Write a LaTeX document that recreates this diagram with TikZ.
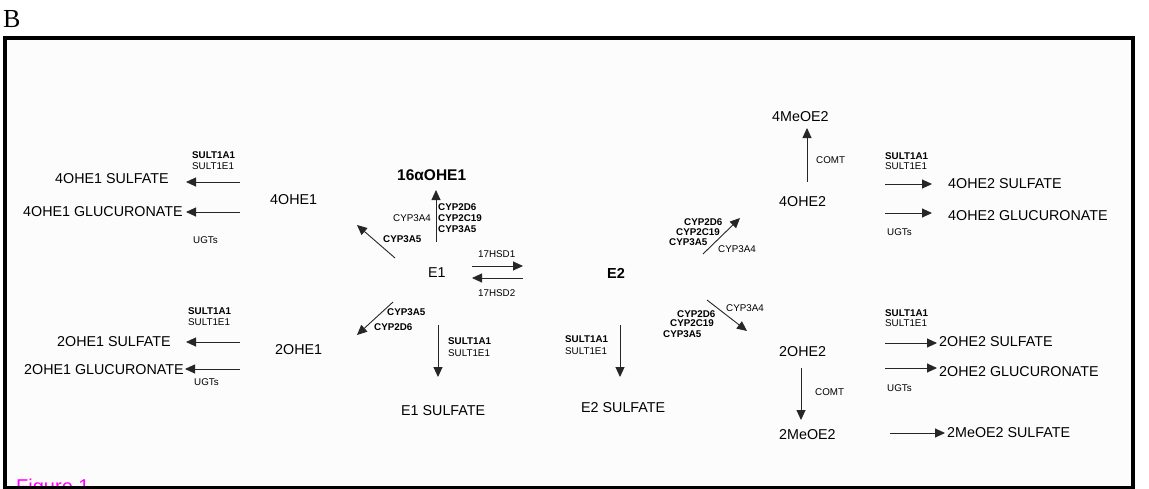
\documentclass[tikz,border=0pt]{standalone}
\usepackage{fontspec}
\setmainfont{Liberation Sans}
\newfontfamily\serifB{Liberation Serif}
\usetikzlibrary{arrows.meta}
\definecolor{panel}{HTML}{FCFCFC}
\definecolor{figmag}{HTML}{FF00FF}
\begin{document}
\begin{tikzpicture}[x=1pt,y=-1pt,
  lab/.style={inner sep=0pt, anchor=west, font=\fontsize{14.3}{16}\selectfont},
  labb/.style={inner sep=0pt, anchor=west, font=\fontsize{14.5}{16}\selectfont\bfseries},
  en/.style={inner sep=0pt, anchor=west, font=\fontsize{9.8}{11}\selectfont},
  enb/.style={inner sep=0pt, anchor=west, font=\fontsize{9.8}{11}\selectfont\bfseries},
  arr/.style={-{Triangle[length=10pt,width=9pt]}, line width=0.9pt, draw=black!85}]
\useasboundingbox (0,0) rectangle (1149,488);
\clip (0,0) rectangle (1149,488);
\fill[panel] (5,38) rectangle (1133,488);
\node[inner sep=0pt, anchor=west, font=\serifB\fontsize{26}{28}\selectfont] (B) at (3,19) {B};
\node[inner sep=0pt, anchor=north west, text=figmag, font=\fontsize{20}{22}\selectfont] (fig) at (16,479) {Figure 1};
% ---------- left top
\node[enb] (lts1) at (192,155) {SULT1A1};
\node[en] (lts2) at (192,166) {SULT1E1};
\node[lab] (p4s) at (55,179) {4OHE1 SULFATE};
\node[lab] (p4g) at (23,212) {4OHE1 GLUCURONATE};
\node[en] (ltu) at (193,240) {UGTs};
\node[lab] (n4OHE1) at (270,200) {4OHE1};
\coordinate (a1s) at (240,182); \coordinate (a1e) at (186,182);
\coordinate (a2s) at (240,212); \coordinate (a2e) at (186,212);
\draw[arr] (a1s) -- (a1e);
\draw[arr] (a2s) -- (a2e);
% ---------- left bottom
\node[enb] (lbs1) at (188,311) {SULT1A1};
\node[en] (lbs2) at (188,322) {SULT1E1};
\node[lab] (p2s) at (57,342) {2OHE1 SULFATE};
\node[lab] (p2g) at (24,370) {2OHE1 GLUCURONATE};
\node[en] (lbu) at (194,382) {UGTs};
\node[lab] (n2OHE1) at (275,350) {2OHE1};
\coordinate (a3s) at (240,342); \coordinate (a3e) at (186,342);
\coordinate (a4s) at (240,369); \coordinate (a4e) at (185,369);
\draw[arr] (a3s) -- (a3e);
\draw[arr] (a4s) -- (a4e);
% ---------- centre
\node[labb, font=\fontsize{15.5}{17}\selectfont\bfseries] (n16) at (397,175) {16αOHE1};
\coordinate (v1s) at (436,242); \coordinate (v1e) at (436,190);
\draw[arr] (v1s) -- (v1e);
\node[enb] (c1a) at (438,207) {CYP2D6};
\node[enb] (c1b) at (438,218) {CYP2C19};
\node[enb] (c1c) at (438,229) {CYP3A5};
\node[en, anchor=east] (c1d) at (431,218) {CYP3A4};
\coordinate (d1s) at (395,258); \coordinate (d1e) at (357,225);
\draw[arr] (d1s) -- (d1e);
\node[enb] (c2a) at (383,239) {CYP3A5};
\node[lab] (E1) at (428,273) {E1};
\node[en] (h1) at (478,254) {17HSD1};
\node[en] (h2) at (478,293) {17HSD2};
\coordinate (h1s) at (472,266); \coordinate (h1e) at (523,266);
\coordinate (h2s) at (523,278); \coordinate (h2e) at (472,278);
\draw[arr] (h1s) -- (h1e);
\draw[arr] (h2s) -- (h2e);
\node[labb] (E2) at (607,273) {E2};
% ---------- lower centre
\coordinate (d2s) at (393,302); \coordinate (d2e) at (357,335);
\draw[arr] (d2s) -- (d2e);
\node[enb] (c3a) at (387,312) {CYP3A5};
\node[enb] (c3b) at (374,327) {CYP2D6};
\coordinate (v2s) at (438,325); \coordinate (v2e) at (438,377);
\draw[arr] (v2s) -- (v2e);
\node[enb] (ms1) at (448,341) {SULT1A1};
\node[en] (ms2) at (448,353) {SULT1E1};
\node[lab] (E1S) at (401,411) {E1 SULFATE};
\node[enb] (ns1) at (565,339) {SULT1A1};
\node[en] (ns2) at (565,351) {SULT1E1};
\coordinate (v3s) at (620,325); \coordinate (v3e) at (620,377);
\draw[arr] (v3s) -- (v3e);
\node[lab] (E2S) at (581,408) {E2 SULFATE};
\coordinate (d3s) at (707,300); \coordinate (d3e) at (747,331);
\draw[arr] (d3s) -- (d3e);
\node[en] (c4d) at (726,308) {CYP3A4};
\node[enb] (c4a) at (677,314) {CYP2D6};
\node[enb] (c4b) at (670,323) {CYP2C19};
\node[enb] (c4c) at (663,334) {CYP3A5};
\node[lab] (n2OHE2) at (779,352) {2OHE2};
\coordinate (v4s) at (801,368); \coordinate (v4e) at (801,420);
\draw[arr] (v4s) -- (v4e);
\node[en] (cm2) at (815,392) {COMT};
\node[lab] (n2Me) at (779,435) {2MeOE2};
% ---------- upper right
\node[lab] (n4Me) at (772,117) {4MeOE2};
\coordinate (v5s) at (807,182); \coordinate (v5e) at (807,128);
\draw[arr] (v5s) -- (v5e);
\node[en] (cm1) at (816,160) {COMT};
\node[lab] (n4OHE2) at (779,202) {4OHE2};
\coordinate (d4s) at (703,254); \coordinate (d4e) at (740,218);
\draw[arr] (d4s) -- (d4e);
\node[enb] (c5a) at (684,222) {CYP2D6};
\node[enb] (c5b) at (676,232) {CYP2C19};
\node[enb] (c5c) at (669,242) {CYP3A5};
\node[en] (c5d) at (718,249) {CYP3A4};
% ---------- right
\node[enb] (rts1) at (885,156) {SULT1A1};
\node[en] (rts2) at (885,166) {SULT1E1};
\coordinate (r1s) at (885,184); \coordinate (r1e) at (932,184);
\draw[arr] (r1s) -- (r1e);
\node[lab] (q4s) at (948,184) {4OHE2 SULFATE};
\coordinate (r2s) at (885,213); \coordinate (r2e) at (932,213);
\draw[arr] (r2s) -- (r2e);
\node[lab] (q4g) at (948,216) {4OHE2 GLUCURONATE};
\node[en] (rtu) at (887,232) {UGTs};
\node[enb] (rbs1) at (885,313) {SULT1A1};
\node[en] (rbs2) at (885,323) {SULT1E1};
\coordinate (r3s) at (885,343); \coordinate (r3e) at (937,343);
\draw[arr] (r3s) -- (r3e);
\node[lab] (q2s) at (939,342) {2OHE2 SULFATE};
\coordinate (r4s) at (885,368); \coordinate (r4e) at (937,368);
\draw[arr] (r4s) -- (r4e);
\node[lab] (q2g) at (939,372) {2OHE2 GLUCURONATE};
\node[en] (rbu) at (887,388) {UGTs};
\coordinate (r5s) at (890,433); \coordinate (r5e) at (945,433);
\draw[arr] (r5s) -- (r5e);
\node[lab] (q2m) at (947,433) {2MeOE2 SULFATE};
% ---------- frame
\draw[line width=4pt] (5,490) -- (5,38) -- (1133,38) -- (1133,490);
\draw[line width=3pt] (3,487) -- (1135,487);
\end{tikzpicture}
\end{document}
